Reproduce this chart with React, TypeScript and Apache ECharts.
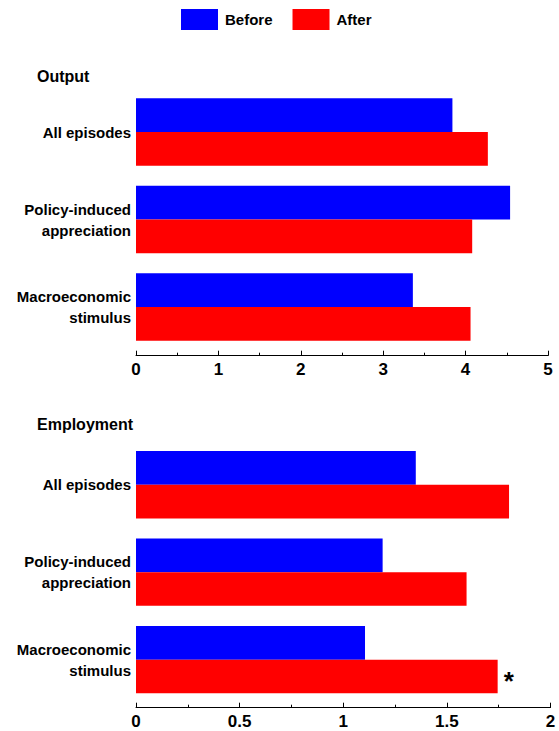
import React, { useEffect, useRef } from "react";
import * as echarts from "echarts";

const categories = ["All episodes", "Policy-induced\nappreciation", "Macroeconomic\nstimulus"];
const panelTitles = ["Output", "Employment"];
const seriesNames = ["Before", "After"];
const outputBefore = [3.84, 4.54, 3.36];
const outputAfter = [4.27, 4.08, 4.06];
const employmentBefore = [1.35, 1.19, 1.105];
const employmentAfter = [1.8, 1.595, 1.745];
const employmentAfterSignificant = [false, false, true];
const outputTicks = { min: 0, max: 5, interval: 1 };
const employmentTicks = { min: 0, max: 2, interval: 0.5 };

const FONT = "Liberation Sans, Arial, Helvetica, sans-serif";
const BLUE = "#0000FF";
const RED = "#FF0000";

export default function App() {
  const ref = useRef<HTMLDivElement>(null);

  useEffect(() => {
    if (!ref.current) return;
    const chart = echarts.init(ref.current, undefined, { renderer: "svg" });

    const xAxisCommon = (ticks: any, gridIndex: number, offset: number) => ({
      type: "value",
      gridIndex,
      min: ticks.min,
      max: ticks.max,
      interval: ticks.interval,
      offset,
      axisLine: { show: true, lineStyle: { color: "#000", width: 1 } },
      axisTick: { show: true, inside: true, length: 5, lineStyle: { color: "#000", width: 1 } },
      minorTick: { show: true, splitNumber: 2, length: 3, lineStyle: { color: "#000", width: 1 } },
      splitLine: { show: false },
      axisLabel: {
        color: "#000",
        fontFamily: FONT,
        fontWeight: "bold",
        fontSize: 17,
        margin: 5,
      },
    });

    const yAxisCommon = (gridIndex: number) => ({
      type: "category",
      gridIndex,
      inverse: true,
      data: categories,
      axisLine: { show: false },
      axisTick: { show: false },
      axisLabel: {
        color: "#000",
        fontFamily: FONT,
        fontWeight: "bold",
        fontSize: 15,
        lineHeight: 21,
        margin: 5,
      },
    });

    const barCommon = {
      type: "bar",
      barGap: "0%",
      barCategoryGap: "23%",
    };

    chart.setOption({
      animation: false,
      backgroundColor: "#fff",
      title: [
        {
          text: panelTitles[0],
          left: 37,
          top: 68,
          padding: 0,
          textStyle: { fontFamily: FONT, fontWeight: "bold", fontSize: 16, color: "#000" },
        },
        {
          text: panelTitles[1],
          left: 37,
          top: 416,
          padding: 0,
          textStyle: { fontFamily: FONT, fontWeight: "bold", fontSize: 16, color: "#000" },
        },
      ],
      legend: {
        data: seriesNames,
        left: 181,
        top: 9,
        padding: 0,
        itemWidth: 37,
        itemHeight: 21,
        itemGap: 20,
        icon: "rect",
        textStyle: { fontFamily: FONT, fontWeight: "bold", fontSize: 15, color: "#000", padding: [0, 0, 0, 2] },
      },
      grid: [
        { left: 136, right: 11, top: 88.3, height: 262.4, containLabel: false },
        { left: 136, right: 8.5, top: 441, height: 262.4, containLabel: false },
      ],
      xAxis: [xAxisCommon(outputTicks, 0, 5), xAxisCommon(employmentTicks, 1, 4.3)],
      yAxis: [yAxisCommon(0), yAxisCommon(1)],
      series: [
        { ...barCommon, name: seriesNames[0], xAxisIndex: 0, yAxisIndex: 0, data: outputBefore, itemStyle: { color: BLUE } },
        { ...barCommon, name: seriesNames[1], xAxisIndex: 0, yAxisIndex: 0, data: outputAfter, itemStyle: { color: RED } },
        { ...barCommon, name: seriesNames[0], xAxisIndex: 1, yAxisIndex: 1, data: employmentBefore, itemStyle: { color: BLUE } },
        {
          ...barCommon,
          name: seriesNames[1],
          xAxisIndex: 1,
          yAxisIndex: 1,
          itemStyle: { color: RED },
          data: employmentAfter.map((v, i) =>
            employmentAfterSignificant[i]
              ? {
                  value: v,
                  label: {
                    show: true,
                    position: "right",
                    formatter: "*",
                    distance: 6,
                    offset: [0, 4],
                    fontFamily: FONT,
                    fontWeight: "bold",
                    fontSize: 26,
                    color: "#000",
                  },
                }
              : v
          ),
        },
      ],
    });

    return () => chart.dispose();
  }, []);

  return (
    <div
      ref={ref}
      style={{ position: "fixed", left: 0, top: 0, width: 559, height: 731, background: "#fff" }}
    />
  );
}
